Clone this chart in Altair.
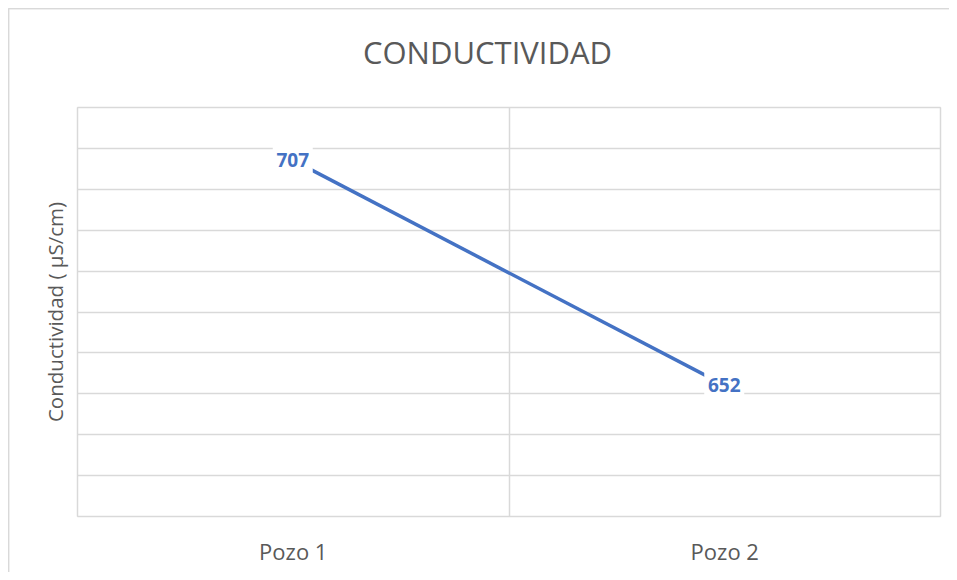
import altair as alt
import pandas as pd

categories = ["Pozo 1", "Pozo 2"]
values = [707, 652]
y_ticks = [620, 630, 640, 650, 660, 670, 680, 690, 700, 710, 720]

df = pd.DataFrame({"pozo": categories, "cond": values})

GRID = "#D9D9D9"
TXT = "#595959"
BLUE = "#4472C4"

x_enc = alt.X(
    "pozo:N",
    sort=categories,
    scale=alt.Scale(type="band", paddingInner=0, paddingOuter=0),
    axis=alt.Axis(
        title=None, labelAngle=0, labelFontSize=22, labelFont="Open Sans",
        labelColor=TXT, ticks=False, tickSize=0, domain=False, grid=True,
        tickBand="extent", gridColor=GRID, gridWidth=1.5,
        labelBaseline="alphabetic", labelPadding=43,
    ),
)
y_enc = alt.Y(
    "cond:Q",
    scale=alt.Scale(domain=[620, 720], nice=False, zero=False),
    axis=alt.Axis(
        title="Conductividad ( µS/cm)", labels=False, ticks=False, domain=False,
        values=y_ticks, gridColor=GRID, gridWidth=1.5,
        titleFont="Open Sans", titleFontSize=20.5, titleFontWeight="normal",
        titleColor=TXT, titleX=-21, titleY=204.5, titleAngle=270,
        titleBaseline="middle", titleAlign="center",
    ),
)

base = alt.Chart(df)

# outer chart frame (only left and top edges are visible in the reference)
frame_left = alt.Chart(df).mark_rule(stroke=GRID, strokeWidth=1.5).encode(
    x=alt.value(-68.5), y=alt.value(-98.5), y2=alt.value(480)
)
frame_top = alt.Chart(df).mark_rule(stroke=GRID, strokeWidth=1.5).encode(
    x=alt.value(-68.5), x2=alt.value(880), y=alt.value(-98.5)
)

line = base.mark_line(color=BLUE, strokeWidth=3.5).encode(x=x_enc, y=y_enc)

box = base.mark_point(
    shape="M-1,-0.7L1,-0.7L1,0.7L-1,0.7Z", size=1600, filled=True,
    fill="white", opacity=1, strokeWidth=0,
).encode(x=x_enc, y=y_enc)

labels = base.mark_text(
    font="Open Sans", fontSize=19, fontWeight="bold", color=BLUE, baseline="middle",
    dy=1,
).encode(x=x_enc, y=y_enc, text="cond:Q")

chart = alt.layer(frame_left, frame_top, line, box, labels).properties(
    width=863,
    height=409,
    padding={"left": 69, "top": 99, "right": 9, "bottom": 56},
    autosize=alt.AutoSizeParams(type="none"),
    title=alt.TitleParams(
        "CONDUCTIVIDAD", fontSize=31, font="Open Sans", fontWeight="normal",
        color=TXT, anchor="middle", baseline="alphabetic", offset=-87, dx=-21,
        frame="group",
    ),
).configure_view(stroke=GRID, strokeWidth=1.5).configure(background="white")

chart.save("out.html", embed_options={"renderer": "svg", "actions": False})
